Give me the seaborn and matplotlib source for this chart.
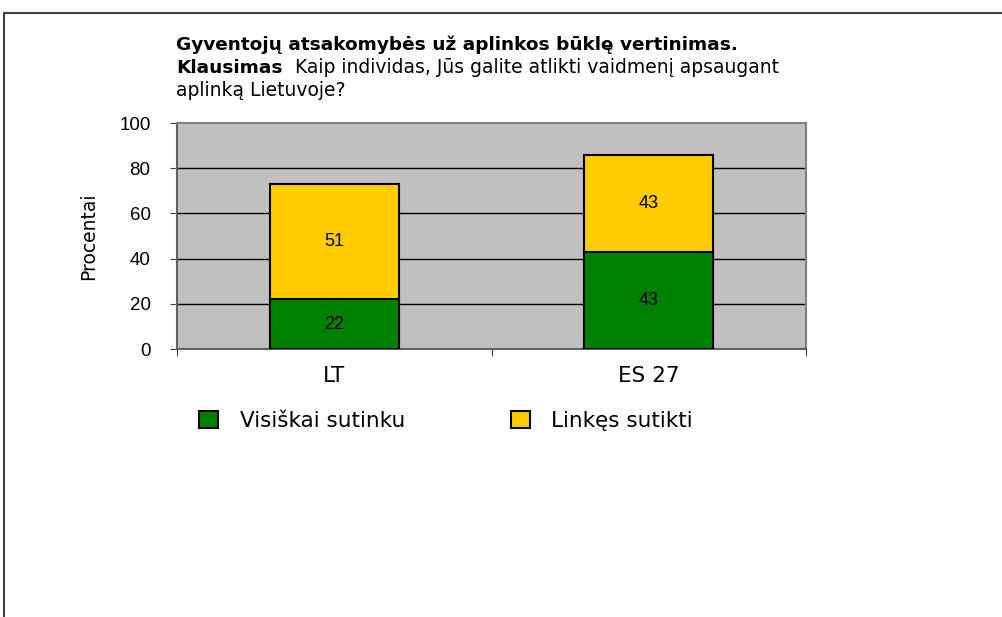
import pandas as pd
import matplotlib.pyplot as plt
import seaborn as sns
from matplotlib.patches import Patch
from matplotlib.lines import Line2D

# Chart data
categories = ['LT', 'ES 27']
visiskai = [22, 43]
linkes = [51, 43]
series_names = ['Visiškai sutinku', 'Linkęs sutikti']
title_line1 = 'Gyventojų atsakomybės už aplinkos būklę vertinimas.'
title_bold2 = 'Klausimas'
title_rest2 = 'Kaip individas, Jūs galite atlikti vaidmenį apsaugant'
title_line3 = 'aplinką Lietuvoje?'

GREEN = '#008000'
YELLOW = '#FFCC00'
PLOT_BG = '#C0C0C0'


def main():
    sns.set_style('white')
    plt.rcParams['font.family'] = ['DejaVu Sans']
    plt.rcParams['text.color'] = 'black'
    plt.rcParams['axes.labelcolor'] = 'black'
    plt.rcParams['xtick.color'] = 'black'
    plt.rcParams['ytick.color'] = 'black'

    df = pd.DataFrame({'kategorija': categories,
                       'visiskai': visiskai,
                       'linkes': linkes})
    df['viso'] = df['visiskai'] + df['linkes']

    fig = plt.figure(figsize=(10.02, 6.17), dpi=100)
    ax = fig.add_axes([177 / 1002, 1 - 349 / 617, 629 / 1002, 226 / 617])
    ax.set_facecolor(PLOT_BG)

    # stacked bars: total (yellow) first, green drawn on top
    sns.barplot(data=df, x='kategorija', y='viso', color=YELLOW,
                edgecolor='black', linewidth=1.5, width=0.41,
                saturation=1, ax=ax, zorder=3)
    sns.barplot(data=df, x='kategorija', y='visiskai', color=GREEN,
                edgecolor='black', linewidth=1.5, width=0.41,
                saturation=1, ax=ax, zorder=4)

    for i, row in df.iterrows():
        ax.text(i, row['visiskai'] / 2, str(row['visiskai']), ha='center',
                va='center', fontsize=13, family='Liberation Sans', zorder=5)
        ax.text(i, row['visiskai'] + row['linkes'] / 2, str(row['linkes']),
                ha='center', va='center', fontsize=13,
                family='Liberation Sans', zorder=5)

    ax.set_ylim(0, 100)
    ax.set_xlim(-0.5, 1.5)
    ax.set_yticks([0, 20, 40, 60, 80, 100])
    for y in [20, 40, 60, 80]:
        ax.axhline(y, color='black', linewidth=1, zorder=1)

    ax.set_xticks([-0.5, 0.5, 1.5], minor=False)
    ax.set_xticklabels(['', '', ''])
    ax.set_xticks([0, 1], minor=True)
    ax.set_xticklabels(categories, minor=True, fontsize=15.5)
    ax.tick_params(axis='x', which='minor', length=0, pad=12)
    ax.tick_params(axis='x', which='major', length=5, direction='out',
                   color='#404040', bottom=True)
    ax.tick_params(axis='y', length=5, direction='out', color='#404040',
                   left=True, labelsize=13.5, pad=14)
    for lab in ax.get_yticklabels():
        lab.set_family('Liberation Sans')

    ax.set_xlabel('')
    ax.set_ylabel('Procentai', fontsize=13.5, labelpad=15)

    for side in ['top', 'right', 'left', 'bottom']:
        ax.spines[side].set_visible(True)
        ax.spines[side].set_linewidth(1.5)
    ax.spines['top'].set_color('#808080')
    ax.spines['right'].set_color('#808080')
    ax.spines['left'].set_color('#606060')
    ax.spines['bottom'].set_color('#606060')

    # title block
    x0 = 176 / 1002
    fs_bold = 13.3
    fs_reg = 13.5
    fig.text(x0, 1 - 45 / 617, title_line1, fontsize=fs_bold,
             fontweight='bold', va='center', ha='left')
    t2 = fig.text(x0, 1 - 68 / 617, title_bold2, fontsize=fs_bold,
                  fontweight='bold', va='center', ha='left')
    ax.annotate(title_rest2, xy=(1, 0), xycoords=t2, xytext=(9, 0),
                textcoords='offset points', fontsize=fs_reg, va='bottom',
                ha='left', annotation_clip=False)
    fig.text(x0, 1 - 91 / 617, title_line3, fontsize=fs_reg, va='center',
             ha='left')

    # legend
    handles = [Patch(facecolor=GREEN, edgecolor='black', linewidth=1.5),
               Patch(facecolor=YELLOW, edgecolor='black', linewidth=1.5)]
    fig.legend(handles, series_names, loc='center',
               bbox_to_anchor=(446 / 1002, 1 - 421 / 617), ncol=2,
               frameon=False, fontsize=15.5, handlelength=0.88,
               handleheight=0.88, handletextpad=1.0, columnspacing=4.9)

    # outer frame lines (left and top)
    fig.add_artist(Line2D([3.5 / 1002, 3.5 / 1002], [0, 1 - 12.5 / 617],
                          transform=fig.transFigure, color='#404040',
                          linewidth=1.5))
    fig.add_artist(Line2D([3.5 / 1002, 1], [1 - 12.5 / 617, 1 - 12.5 / 617],
                          transform=fig.transFigure, color='#404040',
                          linewidth=1.5))

    fig.savefig('out.png', dpi=100)


if __name__ == '__main__':
    main()
